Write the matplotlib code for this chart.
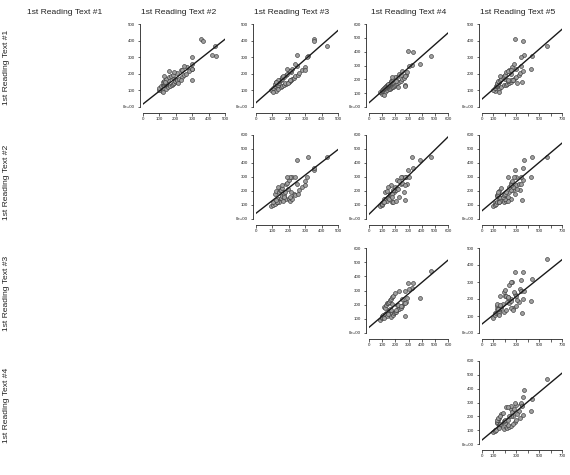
import matplotlib
matplotlib.use("Agg")
import matplotlib.pyplot as plt
import numpy as np

plt.rcParams['font.family'] = ['Liberation Sans', 'DejaVu Sans']

# reading times per text (one entry per reader)
text1 = [95, 105, 110, 115, 120, 125, 128, 130, 132, 135, 138, 140, 142, 145, 148,
         150, 152, 155, 158, 160, 162, 165, 168, 170, 175, 178, 180, 185, 190, 195,
         200, 205, 210, 215, 220, 230, 240, 250, 260, 185, 165, 90, 215, 145, 225,
         369, 408, 398, 305, 312, 300, 160, 150, 229]
text2 = [115, 95, 140, 100, 150, 110, 165, 120, 175, 130, 180, 140, 125, 190, 120,
         200, 140, 195, 130, 210, 150, 205, 140, 220, 180, 160, 240, 170, 250, 180,
         260, 210, 190, 280, 230, 300, 270, 250, 300, 130, 230, 120, 160, 215, 240,
         440, 352, 364, 445, 420, 300, 300, 136, 298]
text3 = [120, 90, 135, 105, 150, 115, 160, 125, 170, 135, 115, 185, 140, 175, 130,
         120, 200, 140, 210, 145, 215, 150, 220, 160, 230, 170, 160, 240, 180, 255,
         190, 260, 215, 200, 280, 220, 300, 250, 240, 165, 135, 105, 205, 195, 300,
         435, 356, 356, 320, 248, 310, 210, 120, 190]
text4 = [100, 85, 120, 95, 140, 100, 155, 110, 160, 120, 170, 115, 175, 125, 185,
         140, 130, 190, 135, 200, 145, 205, 150, 215, 160, 225, 170, 165, 240, 175,
         250, 185, 265, 210, 200, 280, 230, 290, 250, 205, 145, 115, 175, 220, 275,
         468, 299, 337, 324, 387, 300, 270, 273, 241]
text5 = [110, 95, 150, 110, 170, 125, 130, 190, 135, 210, 140, 220, 130, 240, 150,
         150, 250, 140, 230, 270, 155, 250, 200, 170, 290, 180, 300, 190, 320, 200,
         250, 330, 210, 360, 240, 300, 260, 340, 280, 160, 270, 150, 230, 310, 250,
         566, 289, 356, 435, 368, 340, 230, 347, 425]
texts = [text1, text2, text3, text4, text5]
labels = ["1st Reading Text #1", "1st Reading Text #2", "1st Reading Text #3",
          "1st Reading Text #4", "1st Reading Text #5"]

# panels (row text, column text): axis maxima and fitted line
panels = [(1, 2), (1, 3), (1, 4), (1, 5), (2, 3), (2, 4), (2, 5), (3, 4), (3, 5), (4, 5)]
y_max = [500, 500, 600, 500, 600, 600, 600, 600, 500, 600]
fit_intercept = [18, 26, 31, 48, 41, 34, 59, 40, 53, 29]
fit_slope = [0.78, 0.87, 0.84, 0.60, 0.91, 0.92, 0.69, 0.79, 0.54, 0.69]
x_max = {2: 500, 3: 500, 4: 600, 5: 700}
x_label_ticks = {2: [0, 100, 200, 300, 400, 500], 3: [0, 100, 200, 300, 400, 500],
                 4: [0, 100, 200, 300, 400, 500, 600], 5: [0, 100, 300, 500, 700]}

W, H = 570, 475
fig = plt.figure(figsize=(W / 100, H / 100), dpi=100)

col_left = {2: 143, 3: 256, 4: 369, 5: 482}
col_width = {2: 82, 3: 82, 4: 79, 5: 80}
row_bottom = {1: 107, 2: 219, 3: 333, 4: 444}
row_height = {1: 83, 2: 84, 3: 85, 4: 83}
ink = '#222222'

for k, (r, c) in enumerate(panels):
    ax = fig.add_axes([col_left[c] / W, 1 - row_bottom[r] / H,
                       col_width[c] / W, row_height[r] / H])
    x = np.array(texts[c - 1])
    y = np.array(texts[r - 1])
    ax.scatter(x, y, s=8, facecolor='#a0a0a0', edgecolor='#3a3a3a', linewidth=0.45, zorder=3)
    xx = np.array([0, x_max[c]])
    ax.plot(xx, fit_intercept[k] + fit_slope[k] * xx, color='#1a1a1a', lw=1.0, zorder=4)
    ax.set_xlim(0, x_max[c])
    ax.set_ylim(0, y_max[k])
    for s in ['top', 'right']:
        ax.spines[s].set_visible(False)
    ax.spines['left'].set_position(('outward', 2.5))
    ax.spines['bottom'].set_position(('outward', 4.3))
    ax.spines['left'].set_bounds(0, y_max[k])
    ax.spines['bottom'].set_bounds(0, x_max[c])
    for s in ['left', 'bottom']:
        ax.spines[s].set_linewidth(0.6)
        ax.spines[s].set_color(ink)
    ax.set_xticks(np.arange(0, x_max[c] + 1, 100))
    ax.set_xticklabels([str(v) if v in x_label_ticks[c] else '' for v in np.arange(0, x_max[c] + 1, 100)])
    yt = np.arange(0, y_max[k] + 1, 100)
    ax.set_yticks(yt)
    ax.set_yticklabels(['0e+00' if v == 0 else str(v) for v in yt])
    ax.tick_params(length=1.8, width=0.5, pad=1.3, labelsize=3.2, colors=ink)

title_x = [65, 179, 292, 409, 518]
for j, lab in enumerate(labels):
    fig.text(title_x[j] / W, 1 - 12 / H, lab, ha='center', va='center', fontsize=6.1, color=ink)

row_y = [67, 182, 293, 405]
for i in range(4):
    fig.text(7 / W, 1 - row_y[i] / H, labels[i], rotation=90, ha='center', va='center',
             fontsize=6.1, color=ink)

fig.savefig("out.png", dpi=100, facecolor='white')
